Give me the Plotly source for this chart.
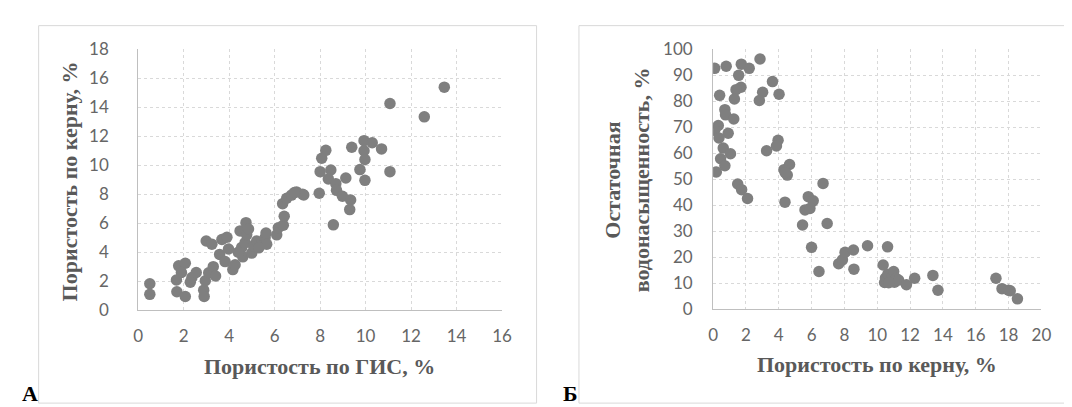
import plotly.graph_objects as go

W, H = 1072, 407

# ---- Chart A: porosity by logs (ГИС) vs porosity by core ----
gis_x = [0.51, 0.51, 1.78, 2.07, 1.68, 1.70, 2.07, 1.90, 2.29, 2.36, 2.55, 2.88, 2.90, 2.95, 3.10,
         3.30, 3.40, 2.99, 3.24, 3.58, 3.68, 3.90, 3.97, 3.82, 4.16, 4.26, 4.48, 4.74, 4.55, 4.60,
         4.70, 4.77, 4.99, 5.07, 5.21, 5.43, 5.58, 5.62, 5.65, 6.09, 6.16, 6.38, 6.42, 6.35, 6.53,
         6.74, 6.96, 7.23, 7.28, 13.46, 11.07, 12.58, 9.93, 10.29, 10.70, 9.39, 8.25, 8.07, 9.93,
         9.97, 9.75, 9.97, 11.07, 8.00, 8.47, 8.36, 8.69, 9.13, 8.72, 8.98, 9.34, 9.30, 8.58,
         7.96, 6.87, 5.30, 4.85, 4.40]
core_y = [1.82, 1.09, 3.06, 3.24, 2.08, 1.27, 0.94, 2.60, 1.93, 2.25, 2.60, 1.38, 0.94, 2.03, 2.58,
          3.00, 2.36, 4.77, 4.55, 3.85, 4.88, 5.03, 4.22, 3.35, 2.80, 3.13, 5.47, 6.04, 4.33, 3.68,
          4.66, 5.20, 3.94, 4.44, 4.77, 4.55, 4.99, 5.32, 4.55, 5.20, 5.69, 5.86, 6.48, 7.35, 7.72,
          7.94, 8.16, 8.00, 7.95, 15.39, 14.26, 13.34, 11.70, 11.55, 11.13, 11.24, 11.03, 10.48, 11.00,
          10.40, 9.70, 8.96, 9.56, 9.56, 9.67, 9.06, 8.73, 9.12, 8.27, 7.86, 7.60, 6.94, 5.89,
          8.07, 8.12, 4.30, 5.60, 4.00]

# ---- Chart B: porosity by core vs residual water saturation ----
core_x = [0.10, 0.80, 1.72, 2.20, 2.86, 1.56, 3.62, 1.70, 1.40, 3.02, 4.02, 0.40, 1.30, 2.82, 0.72,
          0.76, 1.26, 0.32, 0.10, 0.92, 0.36, 3.96, 3.86, 0.62, 1.06, 3.26, 0.46, 0.72, 4.66, 4.32,
          0.20, 4.52, 1.50, 1.74, 2.10, 4.38, 6.70, 5.80, 6.10, 5.60, 5.90, 5.45, 6.95, 6.00, 6.45,
          7.65, 7.88, 8.04, 8.55, 8.58, 9.41, 10.63, 10.36, 10.45, 10.50, 10.65, 10.80, 10.90, 11.00,
          11.05, 11.15, 11.30, 10.70, 11.78, 12.28, 13.39, 13.70, 17.23, 17.60, 18.00, 18.10, 18.54,
          4.40]
swr_y = [92.7, 93.5, 94.3, 92.7, 96.3, 90.0, 87.6, 85.4, 84.5, 83.5, 82.7, 82.3, 80.9, 80.3, 76.8,
         74.8, 73.2, 70.7, 68.9, 67.7, 65.9, 65.0, 62.8, 62.0, 59.8, 61.0, 57.9, 55.2, 55.7, 53.7,
         52.8, 51.6, 48.2, 46.0, 42.6, 41.2, 48.4, 43.3, 41.7, 38.2, 38.8, 32.4, 33.0, 23.8, 14.5,
         17.5, 19.0, 21.9, 22.8, 15.4, 24.4, 24.0, 17.0, 10.3, 12.0, 13.5, 11.0, 12.5, 14.5,
         10.4, 11.8, 11.2, 10.2, 9.4, 11.9, 13.0, 7.3, 11.9, 7.9, 7.3, 7.1, 4.0,
         52.5]

x_ticks_a = [0, 2, 4, 6, 8, 10, 12, 14, 16]
y_ticks_a = [0, 2, 4, 6, 8, 10, 12, 14, 16, 18]
x_ticks_b = [0, 2, 4, 6, 8, 10, 12, 14, 16, 18, 20]
y_ticks_b = [0, 10, 20, 30, 40, 50, 60, 70, 80, 90, 100]

title_xa = "Пористость по ГИС, %"
title_ya = "Пористость по керну, %"
title_xb = "Пористость по керну, %"
title_yb1 = "Остаточная"
title_yb2 = "водонасыщенность, %"

MARK = "#7f7f7f"
GRID = "#d9d9d9"
TXT = "#595959"
TICKFONT = dict(family="Lato, Liberation Sans, sans-serif", size=17, color="#666666")
TITLEFONT = dict(family="Liberation Serif, serif", size=22, color=TXT, weight="bold")


def px(x):
    return x / W


def py(y):
    return 1 - y / H


fig = go.Figure()
fig.add_trace(go.Scatter(x=gis_x, y=core_y, mode="markers", xaxis="x", yaxis="y",
                         marker=dict(size=11.5, color=MARK), showlegend=False))
fig.add_trace(go.Scatter(x=core_x, y=swr_y, mode="markers", xaxis="x2", yaxis="y2",
                         marker=dict(size=11.5, color=MARK), showlegend=False))

axis_common = dict(showgrid=True, gridcolor=GRID, griddash="dot", gridwidth=1,
                   showline=True, linecolor="#bfbfbf", linewidth=1, zeroline=False,
                   ticks="", tickfont=TICKFONT, fixedrange=True)

fig.update_layout(
    width=W, height=H, margin=dict(l=0, r=0, t=0, b=0),
    paper_bgcolor="white", plot_bgcolor="white",
    xaxis=dict(domain=[px(127), px(496)], anchor="y", range=[0, 16], tickvals=x_ticks_a,
               ticklabelstandoff=10, **axis_common),
    yaxis=dict(domain=[py(307), py(32)], anchor="x", range=[0, 18], tickvals=y_ticks_a,
               ticklabelstandoff=25, **axis_common),
    xaxis2=dict(domain=[px(710), px(1043)], anchor="y2", range=[0, 20], tickvals=x_ticks_b,
                ticklabelstandoff=10, **axis_common),
    yaxis2=dict(domain=[py(306), py(32)], anchor="x2", range=[0, 100], tickvals=y_ticks_b,
                ticklabelstandoff=16, **axis_common),
)

# panel borders
fig.add_shape(type="rect", xref="paper", yref="paper", x0=px(26), x1=px(531), y0=py(405), y1=py(7),
              line=dict(color=GRID, width=1), layer="below")
fig.add_shape(type="rect", xref="paper", yref="paper", x0=px(574), x1=px(1080), y0=py(405), y1=py(7),
              line=dict(color=GRID, width=1), layer="below")

ann = [
    dict(text=title_xa, x=px(311), y=py(366), textangle=0),
    dict(text=title_ya, x=px(57), y=py(171), textangle=-90),
    dict(text=title_xb, x=px(876), y=py(364), textangle=0),
    dict(text=title_yb1, x=px(608), y=py(170), textangle=-90),
    dict(text=title_yb2, x=px(637), y=py(170), textangle=-90),
]
for a in ann:
    fig.add_annotation(xref="paper", yref="paper", showarrow=False, font=TITLEFONT,
                       xanchor="center", yanchor="middle", **a)

for lab, xx in (("А", 17), ("Б", 565)):
    fig.add_annotation(text=lab, xref="paper", yref="paper", x=px(xx), y=py(395), showarrow=False,
                       xanchor="center", yanchor="middle",
                       font=dict(family="Liberation Serif, serif", size=22, color="black", weight="bold"))

fig.write_html("out.html")
